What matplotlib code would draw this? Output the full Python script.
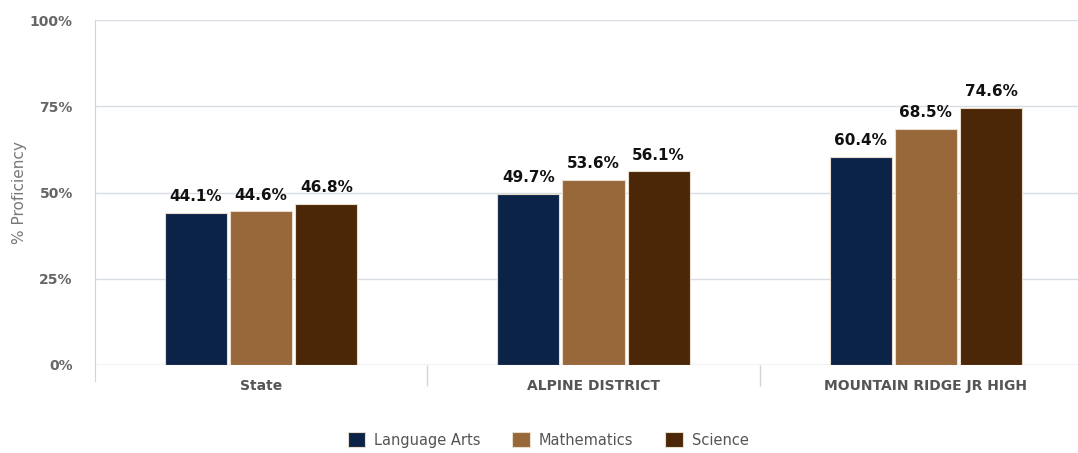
import numpy as np
import matplotlib.pyplot as plt

# Chart data
categories = ["State", "ALPINE DISTRICT", "MOUNTAIN RIDGE JR HIGH"]
series_names = ["Language Arts", "Mathematics", "Science"]
language_arts = [44.1, 49.7, 60.4]
mathematics = [44.6, 53.6, 68.5]
science = [46.8, 56.1, 74.6]
colors = ["#0c2348", "#98673a", "#4b2708"]

W, H = 1078, 453
fig = plt.figure(figsize=(W / 100, H / 100), dpi=100)
left, right, bottom, top = 95, 1078, 365, 20
ax = fig.add_axes([left / W, (H - bottom) / H, (right - left) / W, (bottom - top) / H])

# spines first (moving a spine resets the tick labels)
for s in ["top", "right", "bottom"]:
    ax.spines[s].set_visible(False)
ax.spines["left"].set_color("#d0d5dc")
ax.spines["left"].set_position(("data", -0.5))
ax.spines["left"].set_bounds(-4.5, 100)

x = np.arange(len(categories))
width = 0.187
step = 0.196
all_series = [language_arts, mathematics, science]
for i, (name, vals) in enumerate(zip(series_names, all_series)):
    pos = x + (i - 1) * step
    ax.bar(pos, vals, width, color=colors[i], label=name, zorder=3,
           edgecolor="#e8dccd", linewidth=0.8)
    for p, v in zip(pos, vals):
        ax.text(p, v + 2.5, f"{v:.1f}%", ha="center", va="bottom",
                fontsize=11, fontweight="bold", color="#111111")

ax.set_ylim(0, 100)
ax.set_xlim(-0.5, 2.5 - 14 / 332)
ax.set_yticks([0, 25, 50, 75, 100])
ax.set_yticklabels(["0%", "25%", "50%", "75%", "100%"], fontsize=10,
                   color="#666666", fontweight="bold")
ax.yaxis.grid(True, color="#d8dde3", linewidth=1, zorder=0)
ax.tick_params(axis="y", length=0, pad=16)

ax.set_xticks(x)
ax.set_xticklabels(categories, fontsize=10, fontweight="bold", color="#555555")
ax.set_xticks([0.5, 1.5], minor=True)
ax.tick_params(axis="x", which="major", length=0, pad=10)
ax.tick_params(axis="x", which="minor", length=15, color="#d0d5dc", width=1)
ax.axhline(0, color="#d0d5dc", linewidth=1, zorder=1)

ax.set_ylabel("% Proficiency", fontsize=11, color="#777777")
ax.yaxis.set_label_coords(-0.069, 0.5)

ax.legend(loc="center", ncol=3, frameon=False, fontsize=10.5,
          handlelength=1.2, handleheight=1.2, columnspacing=2.2,
          handletextpad=0.6, labelcolor="#555555",
          bbox_to_anchor=(548 / W, (H - 440) / H), bbox_transform=fig.transFigure)

fig.savefig("out.png", dpi=100)
